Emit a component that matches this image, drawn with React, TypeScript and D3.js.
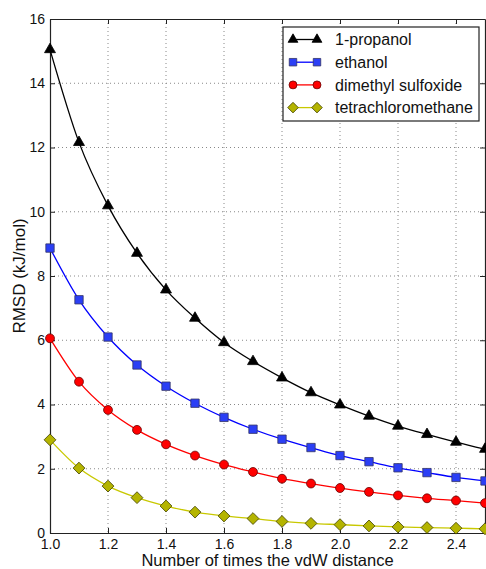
import React, { useEffect, useRef } from 'react';
import * as d3 from 'd3';

const svgWidth = 486;
const svgHeight = 569;
const margin = { top: 19, right: 1, bottom: 36, left: 50 };

const xValues = [1.0, 1.1, 1.2, 1.3, 1.4, 1.5, 1.6, 1.7, 1.8, 1.9, 2.0, 2.1, 2.2, 2.3, 2.4, 2.5];
const propanol = [15.05, 12.16, 10.19, 8.71, 7.57, 6.69, 5.93, 5.34, 4.83, 4.37, 3.99, 3.64, 3.33, 3.07, 2.83, 2.61];
const ethanol = [8.87, 7.26, 6.1, 5.23, 4.57, 4.04, 3.6, 3.23, 2.92, 2.66, 2.41, 2.22, 2.03, 1.88, 1.73, 1.62];
const dmso = [6.06, 4.71, 3.83, 3.21, 2.76, 2.41, 2.13, 1.9, 1.69, 1.54, 1.4, 1.28, 1.17, 1.08, 1.01, 0.93];
const ccl4 = [2.9, 2.02, 1.46, 1.1, 0.84, 0.65, 0.53, 0.45, 0.36, 0.3, 0.26, 0.22, 0.19, 0.17, 0.15, 0.13];

const xTicks = [1.0, 1.2, 1.4, 1.6, 1.8, 2.0, 2.2, 2.4];
const yTicks = [0, 2, 4, 6, 8, 10, 12, 14, 16];

const series = [
  { name: '1-propanol', values: propanol, line: '#000000', fill: '#000000', edge: '#000000', shape: 'triangle' },
  { name: 'ethanol', values: ethanol, line: '#0000ff', fill: '#2b3ff5', edge: '#333366', shape: 'square' },
  { name: 'dimethyl sulfoxide', values: dmso, line: '#ff0000', fill: '#ff0000', edge: '#660000', shape: 'circle' },
  { name: 'tetrachloromethane', values: ccl4, line: '#c8c800', fill: '#b4b400', edge: '#404000', shape: 'diamond' },
];

// square diamond like matlab's 'd' marker
const diamondType = {
  draw(ctx: any, size: number) {
    const r = Math.sqrt(size / 2);
    ctx.moveTo(0, -r);
    ctx.lineTo(r, 0);
    ctx.lineTo(0, r);
    ctx.lineTo(-r, 0);
    ctx.closePath();
  },
};

const symbolFor = (shape: string, scale = 1) => {
  if (shape === 'triangle') return d3.symbol().type(d3.symbolTriangle).size(52 * scale)();
  if (shape === 'square') return d3.symbol().type(d3.symbolSquare).size(70 * scale)();
  if (shape === 'circle') return d3.symbol().type(d3.symbolCircle).size(62 * scale)();
  return d3.symbol().type(diamondType as any).size(70 * scale)();
};

const App = () => {
  const ref = useRef<SVGSVGElement | null>(null);

  useEffect(() => {
    const svg = d3.select(ref.current);
    svg.selectAll('*').remove();
    const w = svgWidth - margin.left - margin.right;
    const h = svgHeight - margin.top - margin.bottom;
    const font = 'Liberation Sans, Arial, sans-serif';

    const x = d3.scaleLinear().domain([1.0, 2.5]).range([0, w]);
    const y = d3.scaleLinear().domain([0, 16]).range([h, 0]);

    const g = svg.append('g').attr('transform', `translate(${margin.left},${margin.top})`);

    // grid
    g.append('g')
      .selectAll('line')
      .data(xTicks.slice(1))
      .enter()
      .append('line')
      .attr('x1', d => x(d)).attr('x2', d => x(d))
      .attr('y1', 0).attr('y2', h)
      .attr('stroke', '#888').attr('stroke-dasharray', '1,3');
    g.append('g')
      .selectAll('line')
      .data(yTicks.slice(1, -1))
      .enter()
      .append('line')
      .attr('x1', 0).attr('x2', w)
      .attr('y1', d => y(d)).attr('y2', d => y(d))
      .attr('stroke', '#888').attr('stroke-dasharray', '1,3');

    // axes, inward ticks
    const fmt = d3.format('.1f');
    const bottom = g.append('g').attr('transform', `translate(0,${h})`)
      .call(d3.axisBottom(x).tickValues(xTicks).tickFormat(d => fmt(d as number)).tickSizeInner(-5).tickSizeOuter(0).tickPadding(6));
    const left = g.append('g')
      .call(d3.axisLeft(y).tickValues(yTicks).tickSizeInner(-5).tickSizeOuter(0).tickPadding(5));
    const top = g.append('g')
      .call(d3.axisTop(x).tickValues(xTicks).tickSizeInner(-5).tickSizeOuter(0).tickFormat(() => ''));
    const right = g.append('g').attr('transform', `translate(${w},0)`)
      .call(d3.axisRight(y).tickValues(yTicks).tickSizeInner(-5).tickSizeOuter(0).tickFormat(() => ''));
    [bottom, left, top, right].forEach(a => {
      a.selectAll('path').attr('stroke', '#222').attr('stroke-width', 1.2);
      a.selectAll('line').attr('stroke', '#222');
      a.selectAll('text').attr('font-family', font).attr('font-size', 14).attr('fill', '#111');
    });

    const line = d3.line<number>()
      .x((_, i) => x(xValues[i]))
      .y(d => y(d))
      .curve(d3.curveMonotoneX);

    series.forEach(s => {
      g.append('path')
        .datum(s.values)
        .attr('d', line)
        .attr('fill', 'none')
        .attr('stroke', s.line)
        .attr('stroke-width', 1.3);
      g.append('g')
        .selectAll('path')
        .data(s.values)
        .enter()
        .append('path')
        .attr('d', symbolFor(s.shape))
        .attr('transform', (d, i) => `translate(${x(xValues[i])},${y(d)})`)
        .attr('fill', s.fill)
        .attr('stroke', s.edge)
        .attr('stroke-width', 0.8);
    });

    // legend
    const lg = svg.append('g').attr('transform', 'translate(283,27)');
    lg.append('rect').attr('width', 196).attr('height', 94)
      .attr('fill', '#fff').attr('stroke', '#222').attr('stroke-width', 1.2);
    series.forEach((s, i) => {
      const yy = 12.5 + i * 22.7;
      lg.append('line').attr('x1', 10).attr('x2', 34).attr('y1', yy).attr('y2', yy)
        .attr('stroke', s.line).attr('stroke-width', 1.3);
      [10, 34].forEach(xx => {
        lg.append('path').attr('d', symbolFor(s.shape, 0.8))
          .attr('transform', `translate(${xx},${yy})`)
          .attr('fill', s.fill).attr('stroke', s.edge).attr('stroke-width', 0.8);
      });
      lg.append('text').attr('x', 52).attr('y', yy).attr('dy', '0.36em')
        .attr('font-family', font).attr('font-size', 16).attr('fill', '#111')
        .text(s.name);
    });

    // axis titles
    svg.append('text')
      .attr('x', margin.left + w / 2).attr('y', 566)
      .attr('text-anchor', 'middle')
      .attr('font-family', font).attr('font-size', 16.5).attr('fill', '#111')
      .text('Number of times the vdW distance');
    svg.append('text')
      .attr('transform', `translate(25,${margin.top + h / 2}) rotate(-90)`)
      .attr('text-anchor', 'middle')
      .attr('font-family', font).attr('font-size', 17).attr('fill', '#111')
      .text('RMSD (kJ/mol)');
  }, []);

  return (
    <svg
      ref={ref}
      width={svgWidth}
      height={svgHeight}
      style={{ position: 'absolute', left: 0, top: 0, background: '#fff' }}
    />
  );
};

export default App;
